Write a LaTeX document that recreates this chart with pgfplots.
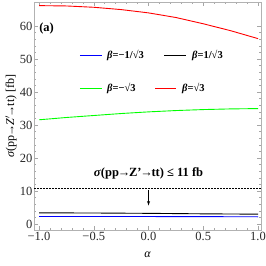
\documentclass[border=0pt]{standalone}
\usepackage{pgfplots}
\pgfplotsset{compat=1.18}
\usepackage{fontspec}
\setmainfont{Liberation Serif}
\newcommand{\ar}{\kern-0.1em→\kern-0.1em}
\begin{document}
\begin{tikzpicture}[x=1bp,y=1bp]
\begin{axis}[name=ax,
  scale only axis, width=227bp, height=228bp,
  xmin=-1.046, xmax=1.027, ymin=-1.8, ymax=67.3,
  axis line style={gray!60, line width=0.6pt},
  tick style={gray!70, line width=0.5pt},
  tick align=inside,
  major tick length=4bp, minor tick length=2bp,
  xtick={-1,-0.5,0,0.5,1},
  xticklabels={−1.0,−0.5,0.0,0.5,1.0},
  minor x tick num=4,
  ytick={0,10,20,30,40,50,60},
  minor y tick num=4,
  /pgf/number format/assume math mode=true,
  tick label style={font=\fontsize{12.5bp}{14bp}\selectfont, text=black!85},
  yticklabel style={inner xsep=1.5bp},
  xticklabel style={inner ysep=1.5bp},
  xlabel={\textit{α}}, ylabel={\textit{σ}(pp\ar\textit{Z}$'$\ar tt) [fb]},
  label style={font=\fontsize{12bp}{14bp}\selectfont},
  xlabel style={at={(axis description cs:0.5,0)}, anchor=center, yshift=-25bp},
  ylabel style={yshift=-2bp},
]
\addplot[red, line width=0.9pt] coordinates {(-1,66.2) (-0.75,66.1) (-0.5,65.7) (-0.25,65.0) (0,64.0) (0.25,62.6) (0.5,60.7) (0.75,58.6) (1,56.2)};
\addplot[green, line width=0.9pt] coordinates {(-1,31.6) (-0.75,32.3) (-0.5,32.9) (-0.25,33.5) (0,34.0) (0.25,34.4) (0.5,34.7) (0.75,34.9) (1,35.0)};
\addplot[black, line width=0.9pt] coordinates {(-1,3.4) (-0.5,3.35) (0,3.25) (0.5,3.1) (1,3.0)};
\addplot[blue, line width=0.9pt] coordinates {(-1,2.3) (-0.5,2.3) (0,2.28) (0.5,2.25) (1,2.2)};
\addplot[black, line width=0.5pt, dash pattern=on 1.8bp off 1.2bp] coordinates {(-1.046,11) (1.027,11)};
\draw[-latex, line width=0.5pt] (axis cs:0,10.3) -- (axis cs:0,5.6);
\node[font=\bfseries\fontsize{12.5bp}{14bp}\selectfont] at (axis cs:0,15.2) {\textit{σ}(pp\ar Z'\ar tt) ≤ 11 fb};
\node[font=\bfseries\fontsize{12.5bp}{14bp}\selectfont, anchor=west] at (axis cs:-1.03,59.3) {(a)};
% legend
\draw[blue, line width=0.9pt] (axis cs:-0.626,51.2) -- (axis cs:-0.425,51.2);
\node[anchor=west, inner sep=0pt, font=\bfseries\fontsize{10.5bp}{12bp}\selectfont] at (axis cs:-0.379,51.2) {\textit{β}=−1/√3};
\draw[black, line width=0.9pt] (axis cs:0.142,51.2) -- (axis cs:0.342,51.2);
\node[anchor=west, inner sep=0pt, font=\bfseries\fontsize{10.5bp}{12bp}\selectfont] at (axis cs:0.397,51.2) {\textit{β}=1/√3};
\draw[green, line width=0.9pt] (axis cs:-0.626,41.2) -- (axis cs:-0.425,41.2);
\node[anchor=west, inner sep=0pt, font=\bfseries\fontsize{10.5bp}{12bp}\selectfont] at (axis cs:-0.379,41.2) {\textit{β}=−√3};
\draw[red, line width=0.9pt] (axis cs:0.059,41.2) -- (axis cs:0.251,41.2);
\node[anchor=west, inner sep=0pt, font=\bfseries\fontsize{10.5bp}{12bp}\selectfont] at (axis cs:0.306,41.2) {\textit{β}=√3};
\end{axis}
\pgfresetboundingbox
\path[use as bounding box] ([xshift=-34bp,yshift=-36bp]ax.south west) rectangle ([xshift=5bp,yshift=2bp]ax.north east);
\end{tikzpicture}
\end{document}
